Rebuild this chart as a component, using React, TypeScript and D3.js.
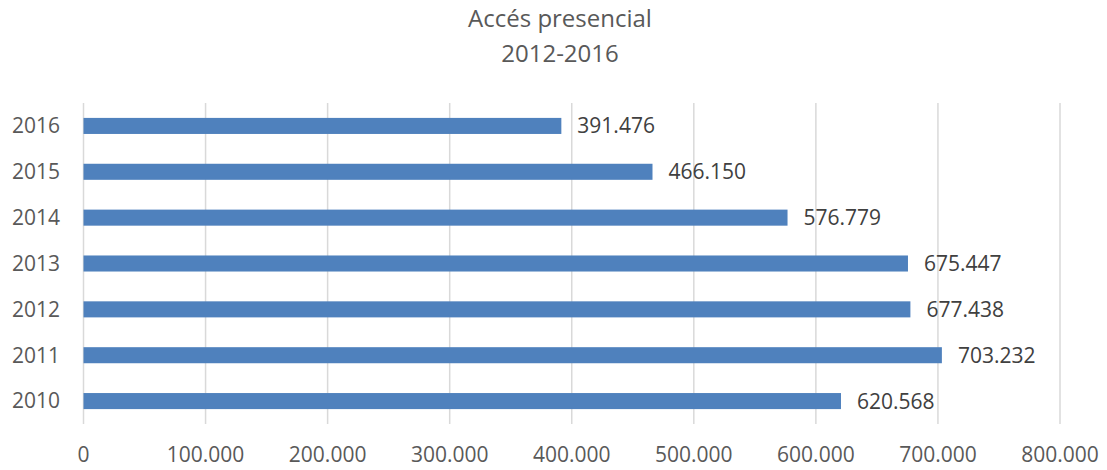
import React, { useEffect } from 'react';
import * as d3 from 'd3';

const years = ['2016', '2015', '2014', '2013', '2012', '2011', '2010'];
const visits = [391476, 466150, 576779, 675447, 677438, 703232, 620568];
const xTicks = [0, 100000, 200000, 300000, 400000, 500000, 600000, 700000, 800000];
const titleLines = ['Accés presencial', '2012-2016'];

const W = 1107;
const H = 470;
const FONT = '"Open Sans", "Liberation Sans", sans-serif';

const locale = d3.formatLocale({ decimal: ',', thousands: '.', grouping: [3], currency: ['', '€'] });
const fmt = locale.format(',d');

const App: React.FC = () => {
  useEffect(() => {
    document.body.style.margin = '0';
  }, []);

  const x = d3.scaleLinear().domain([0, 800000]).range([83.5, 1060]);
  const y = d3.scaleBand<string>().domain(years).range([103, 424]).paddingInner(0.65).paddingOuter(0.325);

  return (
    <svg width={W} height={H} style={{ display: 'block', background: '#fff' }} fontFamily={FONT}>
      {titleLines.map((t, i) => (
        <text key={t} x={560} y={27 + i * 35} textAnchor="middle" fontSize={24} fill="#595959">
          {t}
        </text>
      ))}
      {xTicks.map(t => (
        <g key={t}>
          <line x1={x(t)} x2={x(t)} y1={103} y2={424} stroke="#d9d9d9" strokeWidth={1.5} />
          <text x={x(t)} y={462} textAnchor="middle" fontSize={21} fill="#595959">
            {fmt(t)}
          </text>
        </g>
      ))}
      {years.map((yr, i) => {
        const y0 = y(yr) || 0;
        const cy = y0 + y.bandwidth() / 2;
        return (
          <g key={yr}>
            <rect x={x(0)} y={y0} width={x(visits[i]) - x(0)} height={y.bandwidth()} fill="#4f81bd" />
            <text x={60} y={cy} dy="0.35em" textAnchor="end" fontSize={21} fill="#595959">
              {yr}
            </text>
            <text x={x(visits[i]) + 16} y={cy} dy="0.36em" fontSize={21} fill="#404040">
              {fmt(visits[i])}
            </text>
          </g>
        );
      })}
    </svg>
  );
};

export default App;
